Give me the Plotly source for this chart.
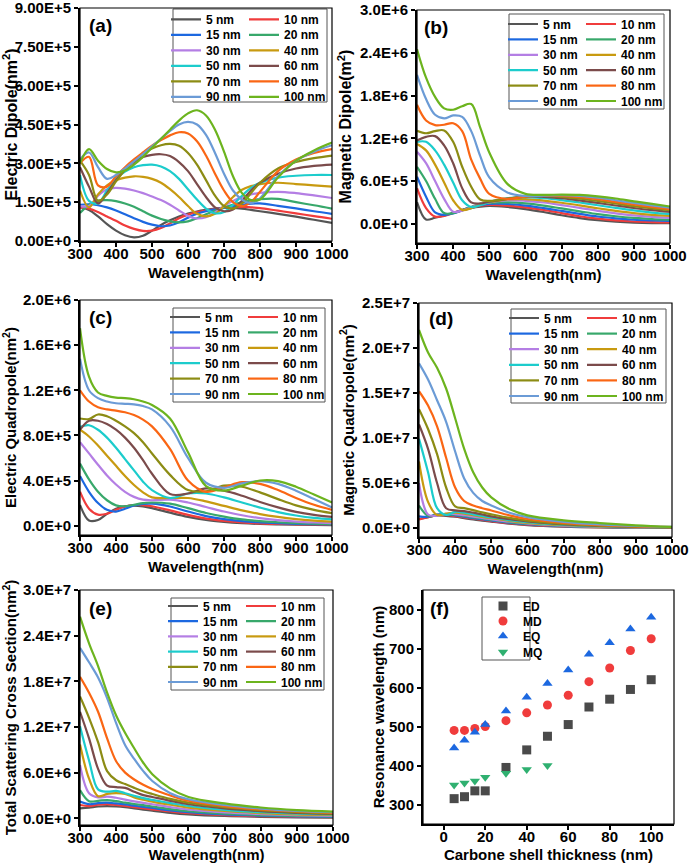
import plotly.graph_objects as go

W, H = 689, 863
FONT = "Liberation Sans"

# ---------------- data ----------------
THICKNESS = ["5 nm", "10 nm", "15 nm", "20 nm", "30 nm", "40 nm",
             "50 nm", "60 nm", "70 nm", "80 nm", "90 nm", "100 nm"]
COLORS = ["#555555", "#f03c3c", "#1c68e0", "#38a86b", "#b47ee4", "#c89a10",
          "#1ccccc", "#7b4b4b", "#8c8c14", "#fa6614", "#6b9bd6", "#6cb41e"]

# (a) Electric dipole, units of 1e5 nm^2
WL_A = [300, 325, 350, 375, 400, 425, 450, 475, 500, 525, 550, 575, 600,
        625, 650, 675, 700, 725, 750, 775, 800, 850, 900, 950, 1000]
ED = [
    [1.31, 1.20, 0.95, 0.65, 0.40, 0.22, 0.14, 0.20, 0.40, 0.62, 0.80, 0.95, 1.06, 1.14, 1.20, 1.25, 1.28, 1.28, 1.25, 1.20, 1.15, 1.05, 0.94, 0.82, 0.70],
    [1.30, 1.25, 1.12, 0.95, 0.78, 0.60, 0.47, 0.39, 0.40, 0.50, 0.68, 0.88, 1.02, 1.12, 1.18, 1.23, 1.28, 1.30, 1.32, 1.30, 1.27, 1.17, 1.07, 0.96, 0.86],
    [1.40, 1.42, 1.38, 1.30, 1.18, 1.03, 0.88, 0.74, 0.63, 0.57, 0.60, 0.72, 0.90, 1.05, 1.15, 1.22, 1.28, 1.35, 1.40, 1.44, 1.45, 1.36, 1.26, 1.15, 1.05],
    [1.08, 1.40, 1.56, 1.58, 1.54, 1.45, 1.32, 1.15, 0.98, 0.85, 0.76, 0.72, 0.76, 0.88, 1.03, 1.17, 1.30, 1.40, 1.50, 1.57, 1.62, 1.63, 1.50, 1.38, 1.25],
    [1.35, 1.35, 1.75, 2.00, 2.05, 2.02, 1.95, 1.85, 1.72, 1.58, 1.40, 1.18, 0.97, 0.87, 0.92, 1.10, 1.35, 1.55, 1.70, 1.80, 1.86, 1.90, 1.85, 1.76, 1.66],
    [1.95, 1.30, 1.80, 2.15, 2.35, 2.45, 2.50, 2.48, 2.40, 2.25, 2.00, 1.70, 1.35, 1.05, 0.95, 1.05, 1.35, 1.70, 1.98, 2.12, 2.20, 2.25, 2.20, 2.15, 2.10],
    [2.55, 1.55, 1.45, 1.95, 2.40, 2.68, 2.85, 2.93, 2.95, 2.88, 2.70, 2.40, 2.00, 1.60, 1.25, 1.07, 1.12, 1.40, 1.75, 2.05, 2.25, 2.45, 2.52, 2.55, 2.55],
    [2.85, 2.10, 1.45, 1.85, 2.35, 2.75, 3.05, 3.25, 3.33, 3.35, 3.28, 3.05, 2.70, 2.20, 1.70, 1.30, 1.15, 1.22, 1.55, 1.95, 2.25, 2.60, 2.80, 2.90, 2.95],
    [3.10, 2.55, 1.55, 1.80, 2.30, 2.75, 3.10, 3.38, 3.57, 3.70, 3.75, 3.68, 3.40, 2.95, 2.35, 1.75, 1.35, 1.25, 1.45, 1.85, 2.25, 2.80, 3.05, 3.20, 3.30],
    [3.00, 3.25, 2.15, 2.10, 2.50, 2.85, 3.15, 3.42, 3.68, 3.90, 4.08, 4.20, 4.15, 3.85, 3.30, 2.60, 1.95, 1.50, 1.35, 1.50, 1.90, 2.70, 3.15, 3.40, 3.55],
    [3.15, 3.42, 2.85, 2.40, 2.55, 2.80, 3.08, 3.36, 3.66, 3.95, 4.25, 4.50, 4.60, 4.50, 4.10, 3.40, 2.60, 1.95, 1.60, 1.47, 1.65, 2.50, 3.10, 3.45, 3.70],
    [3.00, 3.55, 3.10, 2.78, 2.65, 2.72, 2.95, 3.25, 3.60, 3.95, 4.30, 4.65, 4.93, 5.05, 4.85, 4.30, 3.45, 2.50, 1.85, 1.58, 1.60, 2.45, 3.10, 3.50, 3.80],
]

# (b) Magnetic dipole and (c) Electric quadrupole, units of 1e5
WL_B = [300, 325, 350, 375, 400, 425, 450, 475, 500, 550, 600, 650, 700,
        750, 800, 850, 900, 950, 1000]
MD = [
    [3.05, 0.60, 0.85, 1.15, 1.50, 1.90, 2.20, 2.40, 2.50, 2.35, 2.05, 1.65, 1.20, 0.80, 0.50, 0.30, 0.17, 0.10, 0.08],
    [5.00, 2.20, 1.00, 1.10, 1.50, 1.95, 2.30, 2.55, 2.65, 2.55, 2.30, 1.95, 1.50, 1.05, 0.72, 0.47, 0.32, 0.24, 0.20],
    [6.60, 3.80, 1.60, 1.25, 1.45, 1.90, 2.35, 2.65, 2.80, 2.78, 2.55, 2.20, 1.80, 1.40, 1.02, 0.76, 0.56, 0.46, 0.40],
    [8.00, 6.00, 3.50, 1.50, 1.50, 1.90, 2.35, 2.75, 2.95, 3.00, 2.85, 2.55, 2.15, 1.75, 1.35, 1.05, 0.82, 0.66, 0.56],
    [10.1, 8.50, 6.00, 3.50, 1.70, 1.85, 2.30, 2.75, 3.00, 3.30, 3.22, 2.98, 2.62, 2.22, 1.82, 1.47, 1.17, 0.96, 0.82],
    [11.2, 10.3, 8.30, 5.80, 3.30, 1.95, 2.20, 2.70, 3.00, 3.42, 3.45, 3.25, 2.95, 2.58, 2.18, 1.82, 1.50, 1.26, 1.10],
    [11.5, 11.5, 10.3, 8.30, 5.80, 3.30, 2.35, 2.60, 3.05, 3.60, 3.72, 3.58, 3.32, 2.98, 2.60, 2.22, 1.87, 1.57, 1.36],
    [11.7, 12.2, 12.3, 11.0, 8.50, 5.00, 3.00, 2.85, 3.10, 3.50, 3.82, 3.78, 3.58, 3.27, 2.92, 2.56, 2.21, 1.91, 1.66],
    [13.05, 12.7, 13.0, 13.1, 11.5, 8.00, 5.20, 3.40, 3.20, 3.50, 3.85, 3.92, 3.78, 3.52, 3.20, 2.85, 2.48, 2.17, 1.90],
    [16.7, 14.5, 13.85, 13.9, 14.1, 13.0, 9.00, 6.30, 4.20, 3.50, 3.82, 3.95, 3.92, 3.75, 3.45, 3.08, 2.70, 2.36, 2.06],
    [20.9, 17.5, 15.3, 14.8, 15.2, 15.0, 13.0, 9.50, 6.50, 4.40, 3.90, 3.95, 4.00, 3.90, 3.65, 3.30, 2.92, 2.57, 2.25],
    [24.5, 20.5, 17.8, 16.2, 16.0, 16.5, 16.8, 13.5, 10.0, 5.60, 4.20, 4.05, 4.10, 4.05, 3.85, 3.55, 3.15, 2.78, 2.42],
]
EQ = [
    [1.83, 0.45, 0.50, 1.05, 1.50, 1.72, 1.77, 1.70, 1.55, 1.15, 0.78, 0.50, 0.33, 0.22, 0.15, 0.11, 0.08, 0.06, 0.05],
    [3.00, 1.50, 0.97, 1.05, 1.40, 1.68, 1.82, 1.82, 1.72, 1.35, 0.95, 0.62, 0.42, 0.29, 0.20, 0.15, 0.12, 0.10, 0.08],
    [4.40, 3.00, 2.00, 1.40, 1.25, 1.50, 1.78, 1.93, 1.95, 1.70, 1.25, 0.85, 0.58, 0.40, 0.29, 0.21, 0.16, 0.13, 0.11],
    [5.50, 4.10, 3.00, 2.25, 1.80, 1.72, 1.85, 2.00, 2.05, 1.95, 1.55, 1.12, 0.80, 0.55, 0.40, 0.30, 0.22, 0.17, 0.14],
    [7.40, 6.40, 5.40, 4.45, 3.65, 3.00, 2.55, 2.30, 2.25, 2.30, 2.05, 1.65, 1.25, 0.92, 0.67, 0.49, 0.36, 0.28, 0.22],
    [8.50, 7.90, 7.10, 6.20, 5.30, 4.40, 3.60, 2.95, 2.50, 2.45, 2.45, 2.15, 1.75, 1.35, 1.02, 0.77, 0.58, 0.45, 0.36],
    [8.75, 8.90, 8.50, 7.80, 6.90, 5.90, 4.90, 3.90, 3.15, 2.45, 2.85, 2.85, 2.50, 2.05, 1.60, 1.20, 0.90, 0.68, 0.55],
    [8.50, 9.30, 9.30, 9.00, 8.50, 7.80, 6.90, 5.80, 4.60, 2.80, 2.85, 3.30, 3.10, 2.65, 2.10, 1.62, 1.22, 0.95, 0.78],
    [9.50, 9.45, 9.85, 9.70, 9.30, 8.80, 8.20, 7.40, 6.40, 4.50, 3.15, 3.05, 3.55, 3.45, 2.95, 2.35, 1.80, 1.40, 1.10],
    [12.0, 11.0, 10.5, 10.3, 10.2, 10.05, 9.80, 9.40, 8.80, 6.80, 4.00, 3.00, 3.40, 3.85, 3.70, 3.15, 2.45, 1.85, 1.40],
    [14.8, 12.0, 11.3, 11.0, 10.85, 10.8, 10.75, 10.6, 10.3, 8.80, 6.00, 3.80, 3.35, 3.75, 3.95, 3.70, 3.10, 2.35, 1.60],
    [17.5, 13.2, 11.8, 11.5, 11.35, 11.3, 11.2, 11.0, 10.7, 9.50, 6.50, 3.50, 3.10, 3.55, 4.00, 3.95, 3.45, 2.75, 2.05],
]

# (d) Magnetic quadrupole and (e) total scattering, units of 1e6
WL_D = [300, 325, 350, 375, 400, 425, 450, 475, 500, 550, 600, 700, 800, 900, 1000]
MQ = [
    [1.00, 1.20, 1.40, 1.35, 1.25, 1.10, 0.95, 0.82, 0.70, 0.48, 0.32, 0.15, 0.07, 0.04, 0.02],
    [0.95, 1.20, 1.45, 1.42, 1.32, 1.18, 1.03, 0.90, 0.77, 0.54, 0.37, 0.18, 0.09, 0.05, 0.03],
    [1.30, 1.25, 1.50, 1.50, 1.40, 1.26, 1.10, 0.97, 0.84, 0.60, 0.42, 0.21, 0.11, 0.06, 0.03],
    [2.50, 1.35, 1.45, 1.55, 1.48, 1.34, 1.18, 1.04, 0.91, 0.66, 0.47, 0.24, 0.13, 0.07, 0.04],
    [5.00, 1.50, 1.35, 1.58, 1.55, 1.42, 1.27, 1.12, 0.98, 0.72, 0.52, 0.27, 0.15, 0.08, 0.05],
    [7.40, 2.90, 1.45, 1.60, 1.70, 1.60, 1.42, 1.24, 1.08, 0.80, 0.58, 0.31, 0.17, 0.10, 0.06],
    [9.90, 6.20, 2.20, 1.45, 1.80, 1.70, 1.52, 1.34, 1.17, 0.88, 0.64, 0.35, 0.20, 0.11, 0.07],
    [11.5, 8.80, 5.00, 2.20, 1.95, 1.88, 1.70, 1.50, 1.30, 0.98, 0.72, 0.40, 0.23, 0.13, 0.08],
    [13.2, 11.0, 8.20, 4.50, 2.40, 2.20, 1.98, 1.74, 1.52, 1.12, 0.82, 0.46, 0.27, 0.15, 0.09],
    [15.2, 13.6, 11.3, 7.80, 4.50, 3.00, 2.50, 2.20, 1.95, 1.40, 1.00, 0.56, 0.33, 0.18, 0.10],
    [18.3, 16.5, 14.2, 11.8, 8.50, 5.50, 3.90, 3.00, 2.50, 1.70, 1.20, 0.68, 0.40, 0.22, 0.12],
    [22.0, 19.5, 17.8, 15.5, 12.2, 8.80, 6.20, 4.50, 3.40, 2.10, 1.40, 0.85, 0.55, 0.30, 0.12],
]
SCA = [
    [1.30, 1.40, 1.55, 1.60, 1.55, 1.45, 1.30, 1.15, 1.00, 0.72, 0.52, 0.30, 0.20, 0.13, 0.10],
    [1.75, 1.60, 1.80, 1.85, 1.75, 1.62, 1.47, 1.32, 1.18, 0.90, 0.67, 0.40, 0.27, 0.20, 0.15],
    [2.20, 1.85, 2.00, 2.05, 1.95, 1.82, 1.66, 1.50, 1.35, 1.04, 0.80, 0.50, 0.35, 0.26, 0.20],
    [3.70, 2.25, 2.30, 2.40, 2.25, 2.05, 1.88, 1.72, 1.55, 1.20, 0.93, 0.60, 0.43, 0.32, 0.26],
    [7.00, 3.30, 2.75, 2.85, 2.70, 2.45, 2.22, 2.02, 1.85, 1.48, 1.16, 0.78, 0.56, 0.42, 0.33],
    [9.70, 5.20, 2.90, 3.20, 3.30, 3.20, 2.75, 2.45, 2.20, 1.78, 1.40, 0.96, 0.69, 0.52, 0.42],
    [12.1, 7.60, 3.80, 3.50, 3.60, 3.30, 2.95, 2.65, 2.42, 2.00, 1.62, 1.12, 0.80, 0.62, 0.50],
    [14.0, 10.5, 6.50, 4.30, 4.10, 4.00, 3.50, 3.05, 2.80, 2.30, 1.85, 1.30, 0.94, 0.72, 0.58],
    [16.0, 13.2, 10.0, 6.20, 5.00, 4.50, 4.00, 3.55, 3.20, 2.55, 2.05, 1.45, 1.06, 0.82, 0.65],
    [18.6, 16.5, 14.0, 10.5, 7.50, 6.00, 5.10, 4.40, 3.85, 3.00, 2.30, 1.60, 1.17, 0.90, 0.72],
    [22.4, 20.5, 18.5, 15.8, 12.5, 9.60, 7.80, 6.20, 4.90, 3.30, 2.50, 1.75, 1.28, 0.98, 0.80],
    [26.5, 23.0, 20.0, 16.5, 13.5, 11.2, 9.20, 7.30, 5.80, 3.90, 2.80, 1.95, 1.42, 1.08, 0.88],
]

# (f) resonance wavelengths vs carbon shell thickness
SHELL = [5, 10, 15, 20, 30, 40, 50, 60, 70, 80, 90, 100]
RES_ED = [315, 320, 335, 335, 395, 440, 475, 505, 550, 570, 595, 620]
RES_MD = [490, 490, 495, 500, 515, 535, 555, 580, 615, 650, 695, 725]
RES_EQ = [445, 465, 485, 505, 540, 575, 610, 645, 685, 715, 750, 780]
SHELL_MQ = [5, 10, 15, 20, 30, 40, 50]
RES_MQ = [350, 355, 360, 370, 380, 390, 400]

# tick labels
WL_TICKS = [300, 400, 500, 600, 700, 800, 900, 1000]
YT_A = [0, 1.5e5, 3.0e5, 4.5e5, 6.0e5, 7.5e5, 9.0e5]
YL_A = ["0.00E+0", "1.50E+5", "3.00E+5", "4.50E+5", "6.00E+5", "7.50E+5", "9.00E+5"]
YT_B = [0, 6e5, 1.2e6, 1.8e6, 2.4e6, 3.0e6]
YL_B = ["0.0E+0", "6.0E+5", "1.2E+6", "1.8E+6", "2.4E+6", "3.0E+6"]
YT_C = [0, 4e5, 8e5, 1.2e6, 1.6e6, 2.0e6]
YL_C = ["0.0E+0", "4.0E+5", "8.0E+5", "1.2E+6", "1.6E+6", "2.0E+6"]
YT_D = [0, 5e6, 1e7, 1.5e7, 2e7, 2.5e7]
YL_D = ["0.0E+0", "5.0E+6", "1.0E+7", "1.5E+7", "2.0E+7", "2.5E+7"]
YT_E = [0, 6e6, 1.2e7, 1.8e7, 2.4e7, 3.0e7]
YL_E = ["0.0E+0", "6.0E+6", "1.2E+7", "1.8E+7", "2.4E+7", "3.0E+7"]
XT_F = [0, 20, 40, 60, 80, 100]
YT_F = [300, 400, 500, 600, 700, 800]

# ---------------- layout helpers ----------------
def fx(px):
    return px / W


def fy(py):
    return 1 - py / H


PANELS = [
    dict(lab="(a)", wl=WL_A, data=ED, scale=1e5, dom=(80, 332, 8, 241), yr=[0, 9e5],
         yt=YT_A, yl=YL_A, title="Electric Dipole(nm<sup>2</sup>)", tsize=16,
         labpos=(87, 25), box=(173, 327, 9, 102), row0=19.3, dy=15.5, x0=175),
    dict(lab="(b)", wl=WL_B, data=MD, scale=1e5, dom=(417, 670, 10, 243), yr=[-2.7e5, 3.0e6],
         yt=YT_B, yl=YL_B, title="Magnetic Dipole(m<sup>2</sup>)", tsize=16,
         labpos=(422, 28), box=(509, 664, 14, 109), row0=24, dy=15.4, x0=512),
    dict(lab="(c)", wl=WL_B, data=EQ, scale=1e5, dom=(80, 332, 300, 535), yr=[-0.083e6, 2.0e6],
         yt=YT_C, yl=YL_C, title="Electric Quadropole(nm<sup>2</sup>)", tsize=15,
         labpos=(87, 317), box=(173, 325, 308, 402), row0=317, dy=15.4, x0=174),
    dict(lab="(d)", wl=WL_D, data=MQ, scale=1e6, dom=(419, 672, 303, 537), yr=[-1.0e6, 2.5e7],
         yt=YT_D, yl=YL_D, title="Magnetic Quadropole(nm<sup>2</sup>)", tsize=15,
         labpos=(427, 318), box=(511, 666, 309, 403), row0=318, dy=15.6, x0=513),
    dict(lab="(e)", wl=WL_D, data=SCA, scale=1e6, dom=(80, 333, 590, 825), yr=[-0.88e6, 3.0e7],
         yt=YT_E, yl=YL_E, title="Total Scattering Cross Section(nm<sup>2</sup>)", tsize=15,
         labpos=(87, 608), box=(171, 324, 598, 690), row0=606, dy=15.2, x0=172),
]

BOLD15 = dict(family=FONT, size=15, color="black", weight="bold")
COL_STEP = 78  # pixel distance between the two legend columns


def axis_style(**kw):
    d = dict(showline=True, linecolor="black", linewidth=2, mirror=False,
             ticks="outside", ticklen=4, tickwidth=1.5, tickcolor="black",
             showgrid=False, zeroline=False, tickfont=BOLD15, automargin=False,
             ticklabeloverflow="allow")
    d.update(kw)
    return d


fig = go.Figure()
layout = dict(width=W, height=H, margin=dict(l=0, r=0, t=0, b=0, autoexpand=False),
              paper_bgcolor="white", plot_bgcolor="white", showlegend=True)
shapes = []
annotations = []
leg_count = 0


def leg_name(k):
    return "legend" if k == 1 else f"legend{k}"


def legend_entry(x_px, y_px):
    return dict(x=fx(x_px), y=fy(y_px), xanchor="left", yanchor="middle",
                orientation="h", bgcolor="rgba(0,0,0,0)", borderwidth=0,
                font=dict(family=FONT, size=12, color="black", weight="bold"),
                itemwidth=30, traceorder="normal", itemclick=False, itemdoubleclick=False)


for i, p in enumerate(PANELS):
    n = i + 1
    xa = "x" if n == 1 else f"x{n}"
    ya = "y" if n == 1 else f"y{n}"
    xl = "xaxis" if n == 1 else f"xaxis{n}"
    yl = "yaxis" if n == 1 else f"yaxis{n}"
    x0, x1, ytop, ybot = p["dom"]
    layout[xl] = axis_style(domain=[fx(x0), fx(x1)], anchor=ya, range=[300, 1000],
                            tickvals=WL_TICKS, ticktext=[str(v) for v in WL_TICKS],
                            ticklabelstandoff=-6,
                            title=dict(text="Wavelength(nm)", font=BOLD15, standoff=6))
    layout[yl] = axis_style(domain=[fy(ybot), fy(ytop)], anchor=xa, range=p["yr"],
                            tickvals=p["yt"], ticktext=p["yl"],
                            title=dict(text=p["title"], standoff=4,
                                       font=dict(family=FONT, size=p["tsize"], color="black", weight="bold")))
    for j, name in enumerate(THICKNESS):
        leg_count += 1
        lname = leg_name(leg_count)
        row, col = j // 2, j % 2
        layout[lname] = legend_entry(p["x0"] - 9 + col * COL_STEP, p["row0"] + row * p["dy"])
        fig.add_trace(go.Scatter(
            x=p["wl"], y=[v * p["scale"] for v in p["data"][j]],
            mode="lines", name=name, xaxis=xa, yaxis=ya,
            line=dict(color=COLORS[j], width=2.2, shape="spline", smoothing=1.0),
            legend=lname, hoverinfo="skip"))
    bx0, bx1, by0, by1 = p["box"]
    shapes.append(dict(type="rect", xref="paper", yref="paper", x0=fx(bx0), x1=fx(bx1),
                       y0=fy(by1), y1=fy(by0), line=dict(color="#555555", width=1),
                       fillcolor="white", layer="above"))
    shapes.append(dict(type="rect", xref=f"{xa} domain", yref=f"{ya} domain",
                       x0=0, x1=1, y0=0, y1=1, line=dict(color="black", width=1.2),
                       layer="above"))
    annotations.append(dict(text=p["lab"], x=fx(p["labpos"][0]), y=fy(p["labpos"][1]),
                            xref="paper", yref="paper", xanchor="left", yanchor="middle",
                            showarrow=False,
                            font=dict(family=FONT, size=19, color="black", weight="bold")))

# ---------------- panel (f) ----------------
layout["xaxis6"] = axis_style(domain=[fx(423), fx(674)], anchor="y6", range=[-10, 111],
                              tickvals=XT_F, ticktext=[str(v) for v in XT_F],
                              ticklabelstandoff=-6,
                              title=dict(text="Carbone shell thickness (nm)", font=BOLD15, standoff=6))
layout["yaxis6"] = axis_style(domain=[fy(824), fy(590)], anchor="x6", range=[250, 850],
                              tickvals=YT_F, ticktext=[str(v) for v in YT_F],
                              title=dict(text="Resonance wavelength (nm)", font=BOLD15, standoff=1))
F_SERIES = [
    ("ED", SHELL, RES_ED, "square", "#4a4a4a"),
    ("MD", SHELL, RES_MD, "circle", "#f03c3c"),
    ("EQ", SHELL, RES_EQ, "triangle-up", "#1c68e0"),
    ("MQ", SHELL_MQ, RES_MQ, "triangle-down", "#2fb070"),
]
F_ROWS = [606, 621, 636, 652]
for r, (name, xs, ys, sym, col) in enumerate(F_SERIES):
    leg_count += 1
    lname = leg_name(leg_count)
    layout[lname] = legend_entry(483, F_ROWS[r])
    fig.add_trace(go.Scatter(x=xs, y=ys, mode="markers", name=name, xaxis="x6", yaxis="y6",
                             marker=dict(symbol=sym, size=9, color=col, line=dict(width=0)),
                             legend=lname, hoverinfo="skip"))
shapes.append(dict(type="rect", xref="paper", yref="paper", x0=fx(482), x1=fx(530),
                   y0=fy(660), y1=fy(597), line=dict(color="#555555", width=1),
                   fillcolor="white", layer="above"))
shapes.append(dict(type="rect", xref="x6 domain", yref="y6 domain", x0=0, x1=1, y0=0, y1=1,
                   line=dict(color="black", width=1.2), layer="above"))
annotations.append(dict(text="(f)", x=fx(428), y=fy(608), xref="paper", yref="paper",
                        xanchor="left", yanchor="middle", showarrow=False,
                        font=dict(family=FONT, size=19, color="black", weight="bold")))

layout["shapes"] = shapes
layout["annotations"] = annotations
fig.update_layout(**layout)
fig.write_html("out.html")
